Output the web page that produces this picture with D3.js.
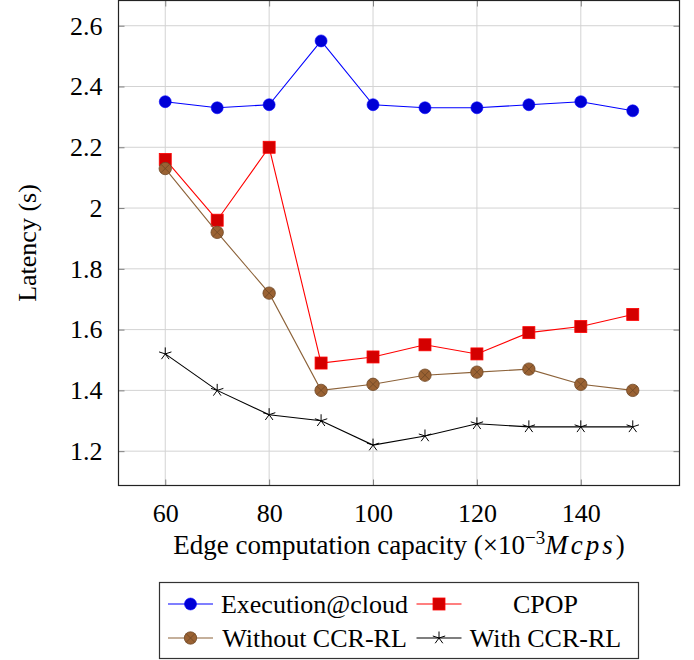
<!DOCTYPE html>
<html>
<head>
<meta charset="utf-8">
<script src="https://cdn.jsdelivr.net/npm/d3@7"></script>
<style>
  body { margin: 0; background: #fff; }
  svg, svg text { font-family: "Liberation Serif", "Times New Roman", Times, serif !important; fill: #000; }
</style>
</head>
<body>
<div id="latency-chart"></div>
<script>
const capacity = [60, 70, 80, 90, 100, 110, 120, 130, 140, 150]
const cloudLatency = [2.35, 2.33, 2.34, 2.55, 2.34, 2.33, 2.33, 2.34, 2.35, 2.32]
const cpopLatency = [2.16, 1.96, 2.20, 1.49, 1.51, 1.55, 1.52, 1.59, 1.61, 1.65]
const withoutRlLatency = [2.13, 1.92, 1.72, 1.40, 1.42, 1.45, 1.46, 1.47, 1.42, 1.40]
const withRlLatency = [1.52, 1.40, 1.32, 1.30, 1.22, 1.25, 1.29, 1.28, 1.28, 1.28]
const seriesNames = ["Execution@cloud", "CPOP", "Without CCR-RL", "With CCR-RL"]
const xTicks = [60, 80, 100, 120, 140]
const yTicks = [1.2, 1.4, 1.6, 1.8, 2.0, 2.2, 2.4, 2.6]

const MARGIN = { LEFT: 118.5, RIGHT: 14.5, TOP: 0.5, BOTTOM: 174.5 }
const WIDTH = 694 - MARGIN.LEFT - MARGIN.RIGHT
const HEIGHT = 660 - MARGIN.TOP - MARGIN.BOTTOM
const FONT = "26px"

const svg = d3.select("#latency-chart").append("svg")
  .attr("width", 694)
  .attr("height", 660)

const g = svg.append("g")
  .attr("transform", `translate(${MARGIN.LEFT}, ${MARGIN.TOP})`)

const x = d3.scaleLinear()
  .domain([51, 159])
  .range([0, WIDTH])

const y = d3.scaleLinear()
  .domain([1.087, 2.683])
  .range([HEIGHT, 0])

// grid
g.append("g").selectAll("line").data(xTicks).enter().append("line")
  .attr("x1", d => x(d)).attr("x2", d => x(d))
  .attr("y1", 0).attr("y2", HEIGHT)
  .attr("stroke", "#d3d3d3").attr("stroke-width", 1)
g.append("g").selectAll("line").data(yTicks).enter().append("line")
  .attr("x1", 0).attr("x2", WIDTH)
  .attr("y1", d => y(d)).attr("y2", d => y(d))
  .attr("stroke", "#d3d3d3").attr("stroke-width", 1)

// axes (ticks inside on all four sides, like pgfplots)
const styleAxis = sel => {
  sel.attr("font-family", null).attr("font-size", null)
  sel.select(".domain").remove()
  sel.selectAll(".tick line").attr("stroke", "#808080")
  sel.selectAll(".tick text").attr("font-size", FONT)
}
g.append("g")
  .attr("transform", `translate(0, ${HEIGHT})`)
  .call(d3.axisBottom(x).tickValues(xTicks).tickSize(-6).tickPadding(18).tickFormat(d3.format("d")))
  .call(styleAxis)
g.append("g")
  .call(d3.axisTop(x).tickValues(xTicks).tickSize(-6).tickFormat(""))
  .call(styleAxis)
g.append("g")
  .call(d3.axisLeft(y).tickValues(yTicks).tickSize(-6).tickPadding(16).tickFormat(d => String(+d.toFixed(1))))
  .call(styleAxis)
g.append("g")
  .attr("transform", `translate(${WIDTH}, 0)`)
  .call(d3.axisRight(y).tickValues(yTicks).tickSize(-6).tickFormat(""))
  .call(styleAxis)

g.append("rect")
  .attr("width", WIDTH).attr("height", HEIGHT)
  .attr("fill", "none").attr("stroke", "#222").attr("stroke-width", 1.2)

// labels
g.append("text")
  .attr("x", WIDTH / 2)
  .attr("y", HEIGHT + 68)
  .attr("font-size", "27px")
  .attr("text-anchor", "middle")
  .html('Edge computation capacity (×10<tspan dy="-10" font-size="19px">−3</tspan><tspan dy="10" font-style="italic" letter-spacing="3">Mcps</tspan>)')

g.append("text")
  .attr("x", -(HEIGHT / 2))
  .attr("y", -MARGIN.LEFT + 36)
  .attr("font-size", FONT)
  .attr("text-anchor", "middle")
  .attr("transform", "rotate(-90)")
  .text("Latency (s)")

// markers
const drawMarker = (sel, kind) => {
  if (kind === "circle") {
    sel.append("circle").attr("r", 6).attr("fill", "#0000d6").attr("stroke", "#0000ff").attr("stroke-width", 0.6)
  } else if (kind === "square") {
    sel.append("rect").attr("x", -6).attr("y", -6).attr("width", 12).attr("height", 12)
      .attr("fill", "#d40000").attr("stroke", "#ff0000").attr("stroke-width", 0.8)
  } else if (kind === "otimes") {
    sel.append("circle").attr("r", 6.2).attr("fill", "#9a6233").attr("stroke", "#6e4726").attr("stroke-width", 0.8)
    sel.append("path").attr("d", "M-4.4,-4.4L4.4,4.4M-4.4,4.4L4.4,-4.4")
      .attr("stroke", "#6e4726").attr("stroke-width", 0.8)
  } else {
    const r = 6.5
    let d = ""
    for (let i = 0; i < 5; i++) {
      const a = -Math.PI / 2 + i * 2 * Math.PI / 5
      d += `M0,0L${r * Math.cos(a)},${r * Math.sin(a)}`
    }
    sel.append("path").attr("d", d).attr("stroke", "#000").attr("stroke-width", 1).attr("fill", "none")
  }
}

const series = [
  { name: seriesNames[0], values: cloudLatency, line: "#0000ff", marker: "circle" },
  { name: seriesNames[1], values: cpopLatency, line: "#ff0000", marker: "square" },
  { name: seriesNames[2], values: withoutRlLatency, line: "#8c6239", marker: "otimes" },
  { name: seriesNames[3], values: withRlLatency, line: "#000000", marker: "star" }
]

const lineGen = d3.line()
  .x(d => x(d.cap))
  .y(d => y(d.lat))

series.forEach(s => {
  const pts = capacity.map((c, i) => ({ cap: c, lat: s.values[i] }))
  g.append("path")
    .datum(pts)
    .attr("d", lineGen)
    .attr("fill", "none")
    .attr("stroke", s.line)
    .attr("stroke-width", 1.1)
  g.append("g").selectAll("g").data(pts).enter().append("g")
    .attr("transform", d => `translate(${x(d.cap)}, ${y(d.lat)})`)
    .each(function () { drawMarker(d3.select(this), s.marker) })
})

// legend
const legend = svg.append("g")
legend.append("rect")
  .attr("x", 159.5).attr("y", 582.5)
  .attr("width", 479).attr("height", 76)
  .attr("fill", "#fff").attr("stroke", "#333").attr("stroke-width", 1.2)

const cols = [
  { lineX: 168, textX: 314.5 },
  { lineX: 416.5, textX: 545.5 }
]
const rows = [604, 638]
series.forEach((s, i) => {
  const col = cols[i % 2]
  const row = rows[Math.floor(i / 2)]
  const item = legend.append("g")
  item.append("line")
    .attr("x1", col.lineX).attr("x2", col.lineX + 45)
    .attr("y1", row).attr("y2", row)
    .attr("stroke", s.line).attr("stroke-width", 1.1)
  item.append("g")
    .attr("transform", `translate(${col.lineX + 22.5}, ${row})`)
    .call(sel => drawMarker(sel, s.marker))
  item.append("text")
    .attr("x", col.textX).attr("y", row)
    .attr("dy", "0.33em")
    .attr("font-size", FONT)
    .attr("text-anchor", "middle")
    .text(s.name)
})
</script>
</body>
</html>
